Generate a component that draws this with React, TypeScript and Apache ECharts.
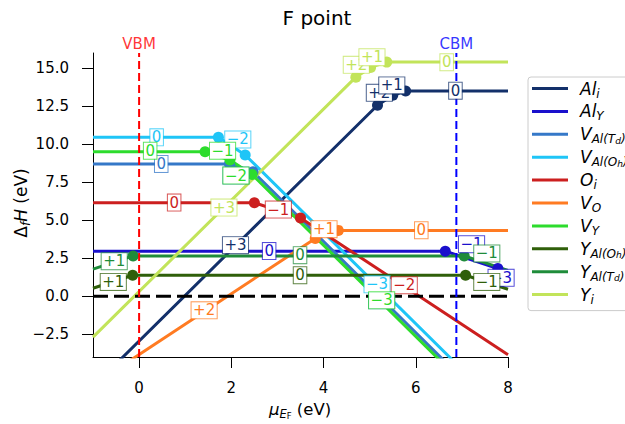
import React, { useEffect, useRef } from "react";
import * as echarts from "echarts";

const FONT = "DejaVu Sans";

// axes
const xTicks = [0, 2, 4, 6, 8];
const yTicks = [-2.5, 0, 2.5, 5, 7.5, 10, 12.5, 15];
const xRange = [-1, 8];
const yRange = [-4, 16];
const vbm = 0;
const cbm = 6.88;

// defects (legend order)
const names = ["Al_i", "Al_Y", "V_Al(Td)", "V_Al(Oh)", "O_i", "V_O", "V_Y", "Y_Al(Oh)", "Y_Al(Td)", "Y_i"];
const colors = ["#13306a", "#1a10cc", "#3578c8", "#1fc5f7", "#cc1f1f", "#ff7b22", "#2ddc2d", "#2f5f0a", "#1f8c3a", "#c2e45a"];
const legendTexts = [
  "{m|Al}{s|i}",
  "{m|Al}{s|Y}",
  "{m|V}{s|Al(T}{ss|d}{s|)}",
  "{m|V}{s|Al(O}{ss|h}{s|)}",
  "{m|O}{s|i}",
  "{m|V}{s|O}",
  "{m|V}{s|Y}",
  "{m|Y}{s|Al(O}{ss|h}{s|)}",
  "{m|Y}{s|Al(T}{ss|d}{s|)}",
  "{m|Y}{s|i}",
];

// polyline vertices: [mu_EF, formation energy, transition dot?]
const alIPts = [[-1, -5.95, 0], [5.17, 12.56, 1], [5.5, 13.22, 1], [5.78, 13.5, 1], [8, 13.5, 0]];
const alYPts = [[-1, 2.96, 0], [6.64, 2.96, 1], [7.78, 1.82, 1], [8, 1.16, 0]];
const vAlTdPts = [[-1, 8.7, 0], [1.96, 8.7, 1], [2.47, 8.19, 1], [8, -8.4, 0]];
const vAlOhPts = [[-1, 10.45, 0], [1.72, 10.45, 1], [2.3, 9.29, 1], [8, -7.81, 0]];
const oIPts = [[-1, 6.15, 0], [2.5, 6.15, 1], [3.5, 5.15, 1], [8, -3.85, 0]];
const vOPts = [[-1, -5.84, 0], [3.82, 3.8, 1], [4.32, 4.33, 1], [8, 4.33, 0]];
const vYPts = [[-1, 9.5, 0], [1.43, 9.5, 1], [1.97, 8.96, 1], [2.45, 8.0, 1], [8, -8.65, 0]];
const yAlOhPts = [[-1, 0.52, 0], [-0.14, 1.38, 1], [7.08, 1.38, 1], [8, 0.46, 0]];
const yAlTdPts = [[-1, 1.78, 0], [-0.13, 2.65, 1], [7.05, 2.65, 1], [8, 1.7, 0]];
const yIPts = [[-1, -2.69, 0], [4.7, 14.41, 1], [5.02, 15.05, 1], [5.37, 15.4, 1], [8, 15.4, 0]];

// charge-state labels: [x, y, text]
const alILabels = [[2.09, 3.36, "+3"], [5.21, 13.38, "+2"], [5.48, 13.87, "+1"], [6.86, 13.52, "0"]];
const alYLabels = [[2.82, 2.97, "0"], [7.21, 3.42, "−1"], [7.85, 1.21, "−3"]];
const vAlTdLabels = [[0.48, 8.7, "0"], [2.1, 7.94, "−1"], [5.26, -0.27, "−3"]];
const vAlOhLabels = [[0.38, 10.45, "0"], [2.14, 10.31, "−2"], [5.16, 0.78, "−3"]];
const oILabels = [[0.76, 6.16, "0"], [3.02, 5.7, "−1"], [5.75, 0.72, "−2"]];
const vOLabels = [[1.41, -0.93, "+2"], [4.01, 4.41, "+1"], [6.12, 4.34, "0"]];
const vYLabels = [[0.24, 9.57, "0"], [1.81, 9.57, "−1"], [2.1, 7.94, "−2"], [5.26, -0.27, "−3"]];
const yAlOhLabels = [[-0.56, 0.94, "+1"], [3.49, 1.38, "0"], [7.54, 0.94, "−1"]];
const yAlTdLabels = [[-0.54, 2.3, "+1"], [3.49, 2.7, "0"], [7.54, 2.81, "−1"]];
const yILabels = [[1.84, 5.83, "+3"], [4.71, 15.22, "+2"], [5.05, 15.72, "+1"], [6.67, 15.39, "0"]];

const allPts = [alIPts, alYPts, vAlTdPts, vAlOhPts, oIPts, vOPts, vYPts, yAlOhPts, yAlTdPts, yIPts];
const allLabels = [alILabels, alYLabels, vAlTdLabels, vAlOhLabels, oILabels, vOLabels, vYLabels, yAlOhLabels, yAlTdLabels, yILabels];

function rgba(hex: string, a: number) {
  const r = parseInt(hex.slice(1, 3), 16);
  const g = parseInt(hex.slice(3, 5), 16);
  const b = parseInt(hex.slice(5, 7), 16);
  return `rgba(${r},${g},${b},${a})`;
}

export default function App() {
  const ref = useRef<HTMLDivElement>(null);
  useEffect(() => {
    if (!ref.current) return;
    const chart = echarts.init(ref.current, null, { renderer: "svg" });

    const lineSeries: any[] = names.map((n, i) => ({
      type: "line",
      name: n,
      silent: true,
      z: 3,
      symbol: "circle",
      symbolSize: 11,
      showSymbol: true,
      showAllSymbol: true,
      data: allPts[i].map((p) => ({ value: [p[0], p[1]], symbol: p[2] ? "circle" : "none" })),
      lineStyle: { color: colors[i], width: 3 },
      itemStyle: { color: colors[i] },
      emphasis: { disabled: true },
    }));

    const refLines: any[] = [
      {
        type: "line", name: "zero", silent: true, z: 4, symbol: "none",
        data: [[xRange[0], 0], [xRange[1], 0]],
        lineStyle: { color: "#000", width: 3, type: [15, 6] },
      },
      {
        type: "line", name: "vbmLine", silent: true, z: 4, symbol: "none",
        data: [[vbm, yRange[0]], [vbm, yRange[1]]],
        lineStyle: { color: "#ff0000", width: 2, type: [8, 4] },
      },
      {
        type: "line", name: "cbmLine", silent: true, z: 4, symbol: "none",
        data: [[cbm, yRange[0]], [cbm, yRange[1]]],
        lineStyle: { color: "#0000ff", width: 2, type: [8, 4] },
      },
      {
        type: "scatter", name: "edgeText", silent: true, z: 5, clip: false,
        symbolSize: 0, itemStyle: { color: "#000" },
        data: [
          { value: [vbm, yRange[1]], name: "VBM", label: { color: "#ff0000" } },
          { value: [cbm, yRange[1]], name: "CBM", label: { color: "#0000ff" } },
        ],
        label: { show: true, position: "top", distance: 2, formatter: "{b}", fontSize: 15, fontFamily: FONT, textBorderWidth: 0 },
      },
    ];

    const labelSeries: any[] = names.map((n, i) => ({
      type: "scatter",
      name: "lbl_" + n,
      silent: true,
      z: 10,
      clip: false,
      symbolSize: 0,
      itemStyle: { color: colors[i], opacity: 1 },
      data: allLabels[i].map((l) => ({ value: [l[0], l[1]], name: l[2] })),
      label: {
        show: true,
        position: "inside",
        formatter: "{b}",
        color: colors[i],
        opacity: 1,
        textBorderWidth: 0,
        textBorderColor: "transparent",
        fontSize: 15,
        fontFamily: FONT,
        lineHeight: 16,
        backgroundColor: "#ffffff",
        borderColor: rgba(colors[i], 0.75),
        borderWidth: 1,
        padding: [0, 1.5, 0, 1.5],
      },
    }));

    const axisCommon = {
      type: "value",
      axisLine: { show: true, onZero: false, lineStyle: { color: "#000", width: 1 } },
      splitLine: { show: false },
    };

    chart.setOption({
      animation: false,
      grid: { left: 93, top: 53, width: 415, height: 304, containLabel: false },
      xAxis: {
        ...axisCommon,
        min: xRange[0],
        max: xRange[1],
        axisTick: { show: true, length: 11, customValues: xTicks, lineStyle: { color: "#000", width: 1 } },
        axisLabel: { customValues: xTicks, fontSize: 15, color: "#000", fontFamily: FONT, margin: 23, formatter: (v: number) => String(v) },
      },
      yAxis: {
        ...axisCommon,
        min: yRange[0],
        max: yRange[1],
        axisTick: { show: true, length: 11, customValues: yTicks, lineStyle: { color: "#000", width: 1 } },
        axisLabel: {
          customValues: yTicks, fontSize: 15, color: "#000", fontFamily: FONT, margin: 24,
          formatter: (v: number) => (v < 0 ? "−" : "") + Math.abs(v).toFixed(1),
        },
      },
      legend: {
        data: names,
        orient: "vertical",
        left: 528,
        top: 77,
        padding: [3, 8, 5, 4],
        itemGap: 3.4,
        itemWidth: 36,
        itemHeight: 3,
        icon: "rect",
        selectedMode: false,
        backgroundColor: "#fff",
        borderColor: "#cccccc",
        borderWidth: 1,
        borderRadius: 3,
        formatter: (name: string) => legendTexts[names.indexOf(name)],
        textStyle: {
          fontFamily: FONT,
          color: "#000",
          rich: {
            m: { fontSize: 17, fontStyle: "italic", fontFamily: FONT, color: "#000", lineHeight: 22, padding: [0, 0, 0, 7] },
            s: { fontSize: 12, fontStyle: "italic", fontFamily: FONT, color: "#000", lineHeight: 12, verticalAlign: "bottom" },
            ss: { fontSize: 9, fontStyle: "italic", fontFamily: FONT, color: "#000", lineHeight: 8, verticalAlign: "bottom" },
          },
        },
      },
      graphic: [
        {
          type: "text", x: 317, y: 18, silent: true,
          style: { text: "F point", fontSize: 20, fontFamily: FONT, fill: "#000", align: "center", verticalAlign: "middle" },
        },
        {
          type: "text", x: 300, y: 409, silent: true,
          style: {
            text: "{i|μ}{s|E}{ss|F}{n| (eV)}", align: "center", verticalAlign: "middle", fill: "#000",
            rich: {
              i: { fontSize: 16.5, fontStyle: "italic", fontFamily: FONT, lineHeight: 22 },
              n: { fontSize: 16.5, fontFamily: FONT, lineHeight: 22 },
              s: { fontSize: 11.5, fontStyle: "italic", fontFamily: FONT, lineHeight: 10, verticalAlign: "bottom" },
              ss: { fontSize: 8.5, fontFamily: FONT, lineHeight: 6, verticalAlign: "bottom" },
            },
          },
        },
        {
          type: "text", x: 21, y: 203, rotation: Math.PI / 2, silent: true,
          style: {
            text: "{n|Δ}{s|f}{i|H}{n| (eV)}", align: "center", verticalAlign: "middle", fill: "#000",
            rich: {
              i: { fontSize: 17, fontStyle: "italic", fontFamily: FONT, lineHeight: 22 },
              n: { fontSize: 17, fontFamily: FONT, lineHeight: 22 },
              s: { fontSize: 12, fontStyle: "italic", fontFamily: FONT, lineHeight: 10, verticalAlign: "bottom" },
            },
          },
        },
      ],
      series: [...lineSeries, ...refLines, ...labelSeries],
    });

    return () => chart.dispose();
  }, []);

  return <div ref={ref} style={{ position: "fixed", left: 0, top: 0, width: 625, height: 424, background: "#fff" }} />;
}
